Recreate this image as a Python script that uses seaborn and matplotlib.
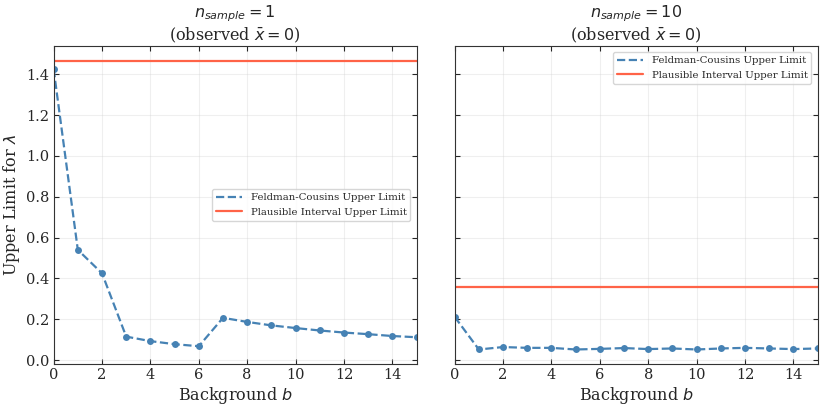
import numpy as np
import pandas as pd
import matplotlib
matplotlib.use('Agg')
import matplotlib.pyplot as plt
import seaborn as sns

# Data
background = list(range(16))
fc_upper_n1 = [1.425, 0.54, 0.425, 0.115, 0.093, 0.078, 0.068, 0.207,
               0.187, 0.170, 0.157, 0.145, 0.135, 0.127, 0.118, 0.112]
fc_upper_n10 = [0.212, 0.052, 0.064, 0.060, 0.060, 0.052, 0.055, 0.059,
                0.054, 0.057, 0.052, 0.057, 0.060, 0.057, 0.054, 0.057]
plausible_n1 = 1.467
plausible_n10 = 0.356
n_samples = [1, 10]

sns.set_style("ticks")
plt.rcParams['font.family'] = ['DejaVu Serif']
plt.rcParams['mathtext.fontset'] = 'dejavusans'

fig, axes = plt.subplots(1, 2, figsize=(8.25, 4.08), dpi=100, sharey=True)
fig.subplots_adjust(left=0.065, right=0.991, top=0.887, bottom=0.108, wspace=0.105)

panels = [(fc_upper_n1, plausible_n1, 'center right'),
          (fc_upper_n10, plausible_n10, 'upper right')]

for ax, n, (fc, pl, loc) in zip(axes, n_samples, panels):
    df = pd.DataFrame({'b': background, 'ul': fc})
    sns.lineplot(data=df, x='b', y='ul', ax=ax, color='#4682B4', linestyle='--',
                 linewidth=1.6, marker='o', markersize=5, markeredgewidth=0,
                 label='Feldman-Cousins Upper Limit')
    ax.axhline(pl, color='#FF6347', linewidth=1.6, label='Plausible Interval Upper Limit')
    ax.set_xlim(0, 15)
    ax.set_xticks(range(0, 16, 2))
    ax.set_title(f'$n_{{sample}} = {n}$\n(observed $\\bar{{x}} = 0$)', fontsize=11.5,
                 linespacing=1.15, pad=4)
    ax.set_xlabel('Background $b$', fontsize=11.5, labelpad=2)
    ax.grid(True, alpha=0.3)
    ax.tick_params(direction='in', top=True, right=True, labelsize=10.5, pad=3)
    for sp in ax.spines.values():
        sp.set_color('#333333')
    leg = ax.legend(loc=loc, fontsize=7.3, frameon=True, fancybox=True,
                    handlelength=2.6, borderaxespad=0.6)
    leg.get_frame().set_edgecolor('#cccccc')
    for h in leg.legend_handles:
        h.set_marker('')

axes[0].set_ylabel('Upper Limit for $\\lambda$', fontsize=11.5, labelpad=3)
axes[1].set_ylabel('')
axes[1].tick_params(labelleft=False)

fig.savefig('out.png', dpi=100)
